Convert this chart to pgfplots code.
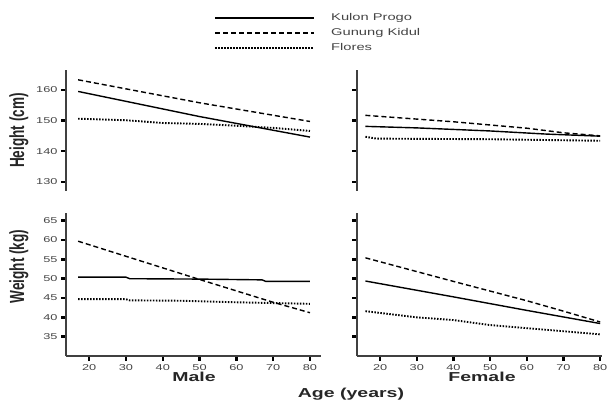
\documentclass[border=0pt]{standalone}
\usepackage{pgfplots}
\pgfplotsset{compat=1.18}
\usepackage{fontspec}
\setmainfont{Liberation Sans}[FakeStretch=1.5]
\newfontfamily\plainsans{Liberation Sans}

\definecolor{axisgray}{HTML}{404040}
\definecolor{labgray}{HTML}{444444}

\pgfplotsset{
  panel/.style={
    scale only axis,
    anchor=south west,
    axis lines*=left,
    axis line style={-, draw=axisgray, line width=1.3pt},
    tick align=outside,
    major tick length=5pt,
    tick style={black, line width=2.5pt},
    xtick={20,30,...,80},
    tick label style={font=\fontsize{8.5}{8.5}\selectfont, text=labgray},
    /pgf/number format/assume math mode=true,
    clip=false,
  },
  kp/.style={black, line width=1.4pt},
  gk/.style={black, line width=1.4pt, dash pattern=on 5pt off 3pt},
  fl/.style={black, line width=1.9pt, dash pattern=on 1.5pt off 1.5pt},
}

\begin{document}
\begin{tikzpicture}[x=1pt,y=1pt]
\useasboundingbox (0,0) rectangle (608,402);

% Male height
\begin{axis}[panel, at={(66pt,211pt)}, width=255pt, height=121pt,
    xmin=13.7, xmax=83, ymin=127, ymax=166.5,
    ytick={130,140,150,160}, hide x axis,
    legend style={at={(axis description cs:0.569,1.485)}, anchor=north west,
      draw=none, fill=none, font=\fontsize{9.8}{9.8}\selectfont, text=labgray,
      row sep=6pt, nodes={inner sep=0pt, text height=7pt, text depth=2pt},
      /tikz/every odd column/.append style={column sep=16pt}},
    legend cell align=left,
    legend image code/.code={\draw[#1] (0pt,0pt) -- (99pt,0pt);}]
\addplot[kp] coordinates {(17,159.5) (50,151.3) (80,144.6)};
\addlegendentry{Kulon Progo}
\addplot[gk] coordinates {(17,163.3) (50,155.8) (80,149.7)};
\addlegendentry{Gunung Kidul}
\addplot[fl] coordinates {(17,150.6) (30,150.1) (40,149.2) (50,148.9) (60,148.3) (70,147.6) (80,146.6)};
\addlegendentry{Flores}
\end{axis}

% Female height
\begin{axis}[panel, at={(357pt,211pt)}, width=245pt, height=121pt,
    xmin=13.7, xmax=80.5, ymin=127, ymax=166.5,
    ytick={130,140,150,160}, yticklabels={}, hide x axis]
\addplot[kp] coordinates {(16,148.1) (30,147.6) (50,146.6) (65,145.6) (80,144.9)};
\addplot[gk] coordinates {(16,151.7) (40,149.6) (60,147.5) (70,146.0) (80,145.0)};
\addplot[fl] coordinates {(16,144.7) (19,144.1) (50,143.9) (80,143.4)};
\end{axis}

% Male weight
\begin{axis}[panel, at={(66pt,46pt)}, width=255pt, height=143pt,
    xmin=13.7, xmax=83, ymin=30, ymax=67,
    ytick={35,40,...,65}]
\addplot[kp] coordinates {(17,50.4) (30,50.4) (31,50.0) (50,49.9) (67,49.7) (68,49.3) (80,49.3)};
\addplot[gk] coordinates {(17,59.7) (30,55.8) (50,49.8) (70,43.9) (80,41.2)};
\addplot[fl] coordinates {(17,44.7) (30,44.7) (31,44.4) (45,44.3) (60,43.9) (80,43.5)};
\end{axis}

% Female weight
\begin{axis}[panel, at={(357pt,46pt)}, width=245pt, height=143pt,
    xmin=13.7, xmax=80.5, ymin=30, ymax=67,
    ytick={35,40,...,65}, yticklabels={}]
\addplot[kp] coordinates {(16,49.4) (40,45.3) (60,41.8) (80,38.4)};
\addplot[gk] coordinates {(16,55.4) (40,49.3) (60,44.3) (70,41.6) (80,38.8)};
\addplot[fl] coordinates {(16,41.6) (30,40.0) (40,39.3) (50,38.0) (60,37.2) (70,36.4) (80,35.6)};
\end{axis}

% labels
\node[font=\fontsize{13}{13}\selectfont\bfseries, text=black!85] at (194,25) {Male};
\node[font=\fontsize{13}{13}\selectfont\bfseries, text=black!85] at (482,25) {Female};
\node[font=\fontsize{13}{13}\selectfont\bfseries, text=black!85] at (351,8) {Age (years)};
\node[font=\plainsans\fontsize{13.6}{13.6}\selectfont\bfseries, text=black!85] at (19,271.5)
  {\rotatebox{90}{\scalebox{1}[1.5]{Height (cm)}}};
\node[font=\plainsans\fontsize{13.6}{13.6}\selectfont\bfseries, text=black!85] at (19,135.5)
  {\rotatebox{90}{\scalebox{1}[1.5]{Weight (kg)}}};
\end{tikzpicture}
\end{document}
